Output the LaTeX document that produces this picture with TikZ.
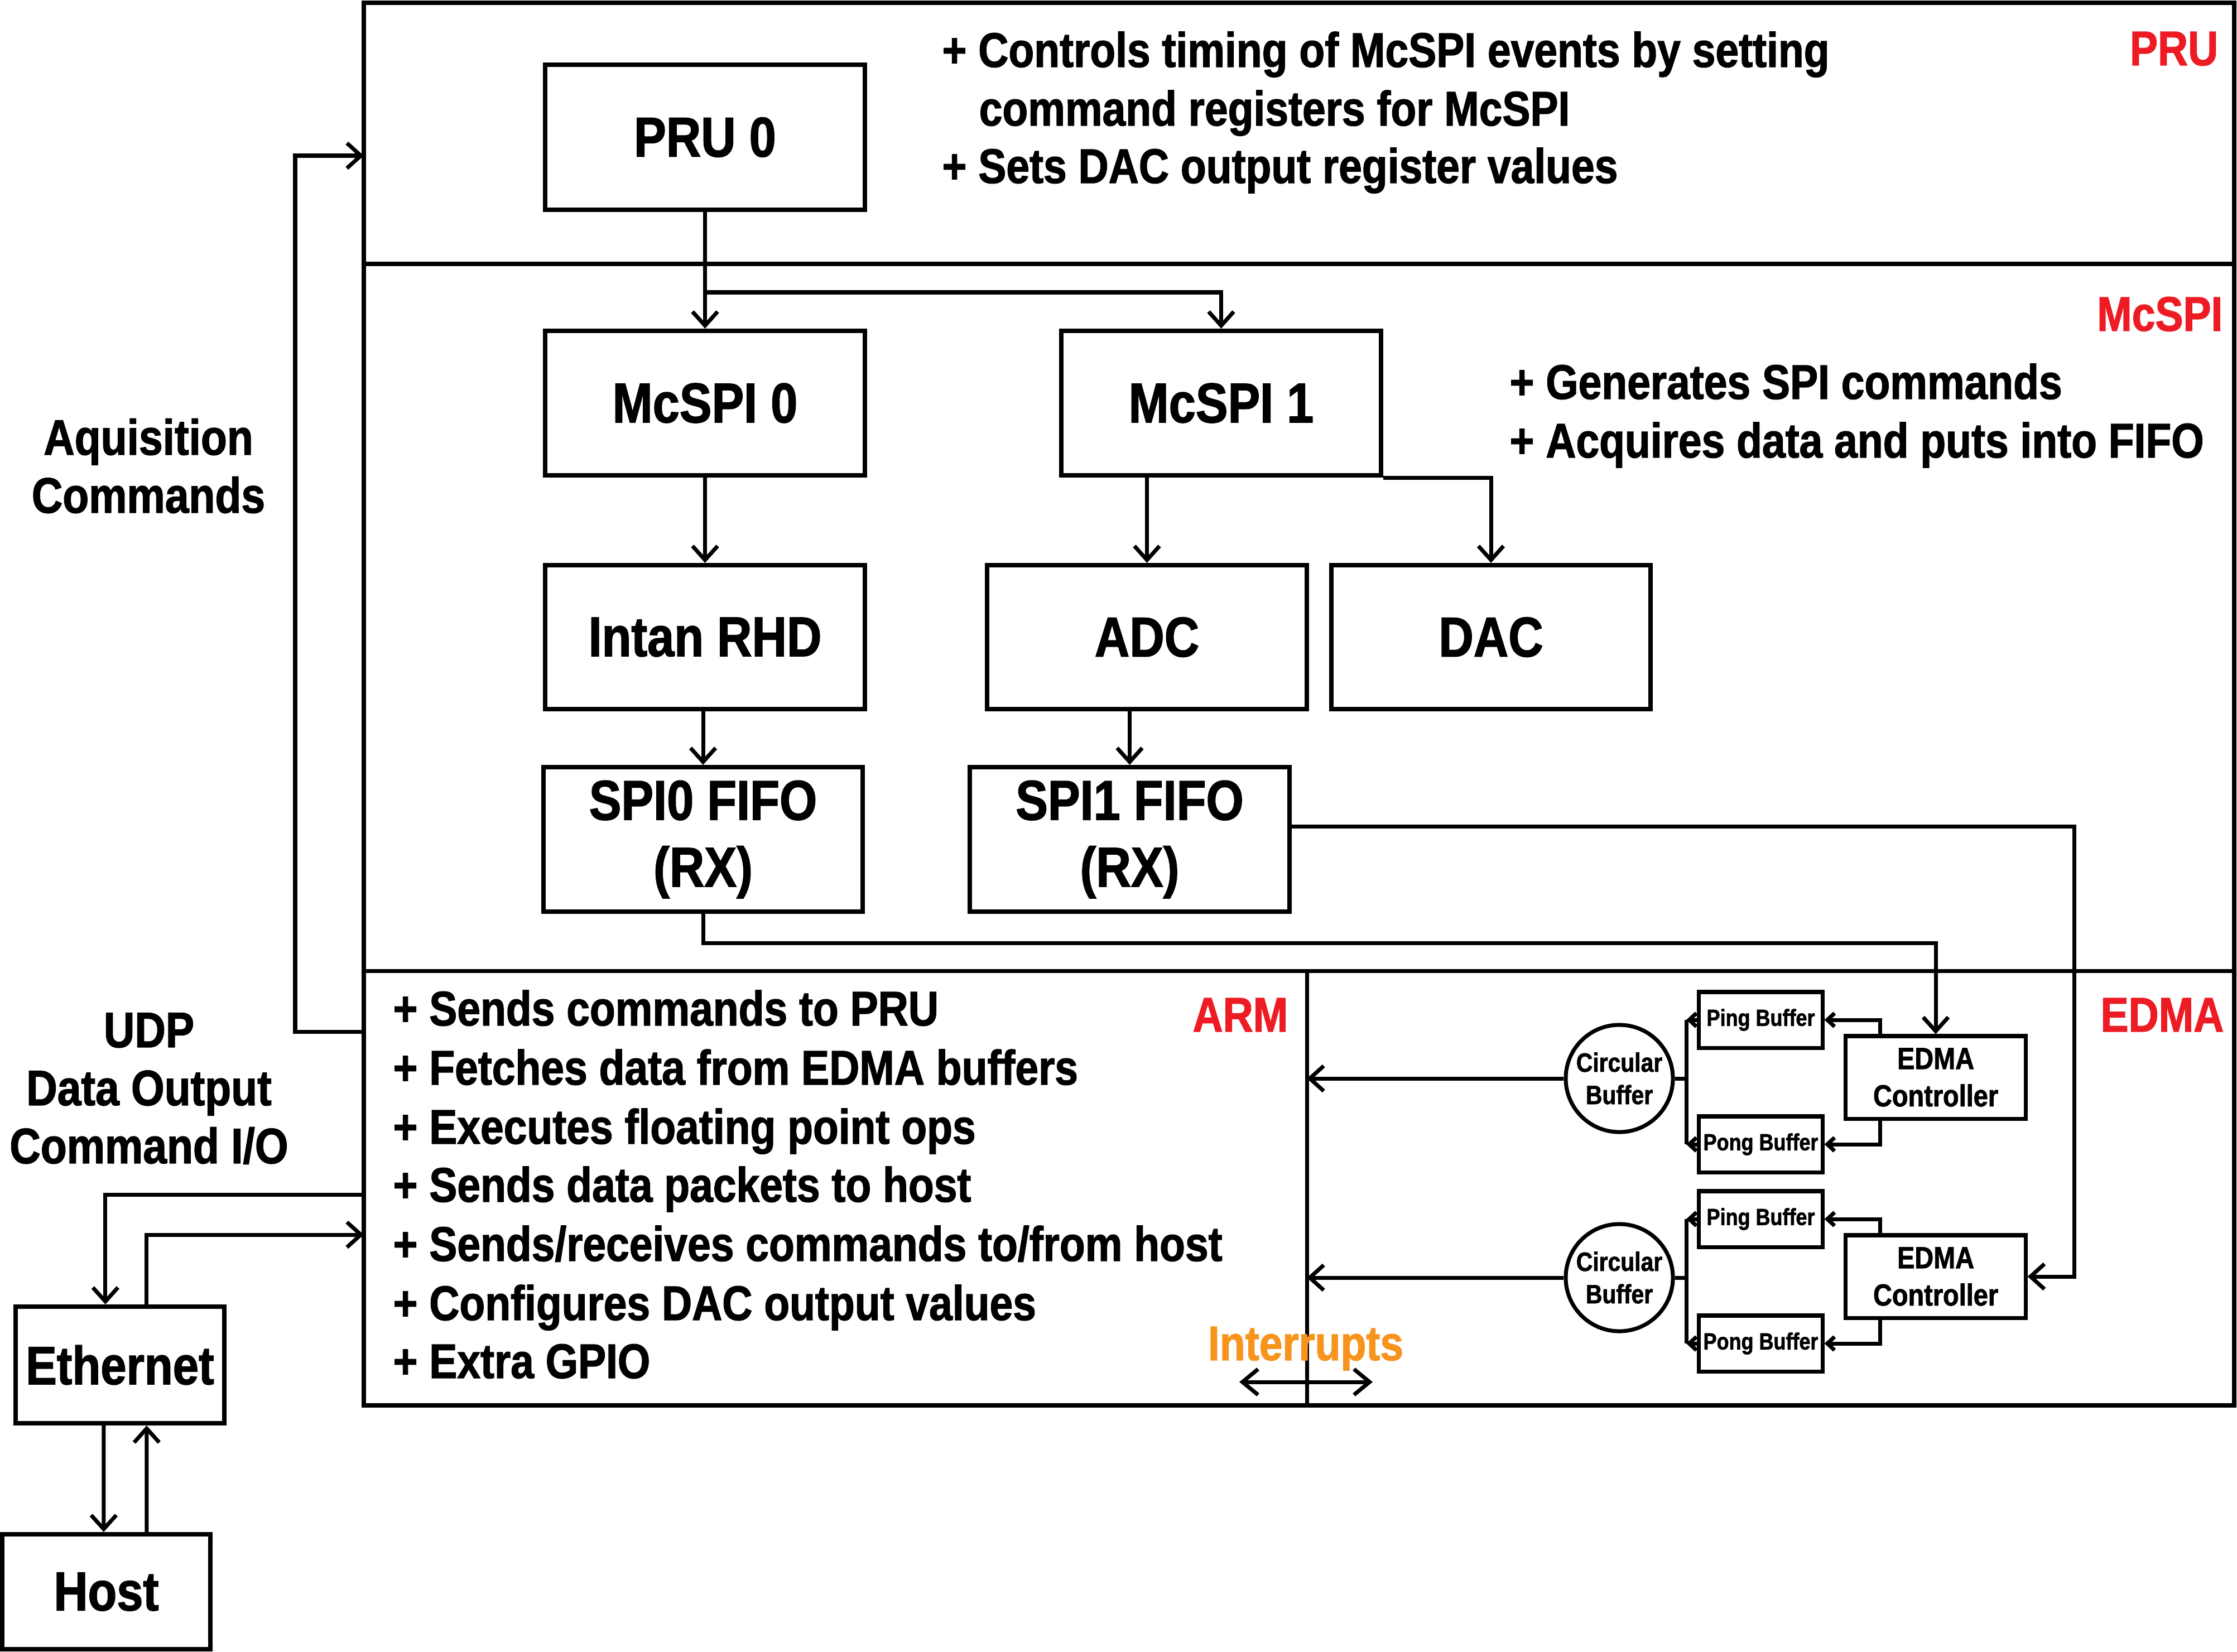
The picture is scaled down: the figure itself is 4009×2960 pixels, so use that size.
\documentclass[tikz,border=0pt]{standalone}
\usepackage{fontspec}
\newfontfamily\cond{Liberation Sans}[FakeStretch=0.86, FakeBold=1.5]
\usetikzlibrary{arrows.meta,calc}
\definecolor{lblred}{HTML}{ED1C24}
\definecolor{intorange}{HTML}{F7941E}
\tikzset{
  box/.style={draw, line width=2.3pt, rectangle, inner sep=0pt, align=center,
    font=\cond\bfseries\fontsize{28.6pt}{34.1pt}\selectfont},
  smallbox/.style={draw, line width=2pt, rectangle, inner sep=0pt, align=center,
    minimum width=2.21cm, minimum height=1.0cm,
    font=\cond\bfseries\fontsize{11.9pt}{14pt}\selectfont},
  ctrlbox/.style={draw, line width=2pt, rectangle, inner sep=0pt, align=center,
    minimum width=3.22cm, minimum height=1.48cm,
    font=\cond\bfseries\fontsize{15.5pt}{19pt}\selectfont},
  circbuf/.style={draw, line width=2pt, circle, inner sep=0pt, align=center,
    minimum size=1.92cm, font=\cond\bfseries\fontsize{13.5pt}{16.5pt}\selectfont},
  txt/.style={inner sep=0pt, anchor=base west,
    font=\cond\bfseries\fontsize{24.8pt}{30pt}\selectfont},
  sidelbl/.style={inner sep=0pt, anchor=base,
    font=\cond\bfseries\fontsize{25.4pt}{30pt}\selectfont},
  seclbl/.style={inner sep=0pt, anchor=base east, text=lblred,
    font=\cond\bfseries\fontsize{24.8pt}{30pt}\selectfont},
  frame/.style={line width=2.3pt},
  divider/.style={line width=2pt},
  conn/.style={line width=2pt},
  arr/.style={line width=2pt, -{Straight Barb[length=0.25cm, width=0.45cm, line width=2pt]}},
  sarr/.style={line width=2pt, -{Straight Barb[length=0.13cm, width=0.24cm, line width=2pt]}},
  dblarr/.style={line width=2pt, {Straight Barb[length=0.28cm, width=0.46cm, line width=2pt]}-{Straight Barb[length=0.28cm, width=0.46cm, line width=2pt]}},
}
\begin{document}
\begin{tikzpicture}[x=0.01cm, y=-0.01cm]
\useasboundingbox (0,0) rectangle (4009,2960);

% frame and section dividers
\draw[frame] (652,5) rectangle (4004,2519);
\draw[divider] (652,473) -- (4004,473);
\draw[divider] (652,1740) -- (4004,1740);
\coordinate (div) at (2342,1740);
\draw[divider] (div) -- (2342,2519);

% section labels
\node[seclbl] (lpru) at (3976,117) {PRU};
\node[seclbl] (lmcspi) at (3984,593) {McSPI};
\node[seclbl] (larm) at (2309,1849) {ARM};
\node[seclbl] (ledma) at (3986,1849) {EDMA};

% PRU section
\node[box, minimum width=5.73cm, minimum height=2.60cm] (pru0) at (1263.5,246) {PRU 0};
\node[txt] (p1) at (1688,120) {+ Controls timing of McSPI events by setting};
\node[txt] (p2) at (1754,225) {command registers for McSPI};
\node[txt] (p3) at (1688,328) {+ Sets DAC output register values};

% McSPI section
\node[box, minimum width=5.73cm, minimum height=2.59cm] (mcspi0) at (1263.5,722.5) {McSPI 0};
\node[box, minimum width=5.73cm, minimum height=2.59cm] (mcspi1) at (2188.5,722.5) {McSPI 1};
\node[box, minimum width=5.73cm, minimum height=2.58cm] (intan) at (1263.5,1142) {Intan RHD};
\node[box, minimum width=5.73cm, minimum height=2.58cm] (adc) at (2055.5,1142) {ADC};
\node[box, minimum width=5.72cm, minimum height=2.58cm] (dac) at (2672,1142) {DAC};
\node[box, minimum width=5.72cm, minimum height=2.59cm] (spi0) at (1260,1504.5) {SPI0 FIFO\\(RX)};
\node[box, minimum width=5.73cm, minimum height=2.59cm] (spi1) at (2024.5,1504.5) {SPI1 FIFO\\(RX)};
\node[txt] (m1) at (2705,715) {+ Generates SPI commands};
\node[txt] (m2) at (2705,820) {+ Acquires data and puts into FIFO};

\coordinate (br) at (1263.5,524);
\draw[arr] (pru0.south) -- (mcspi0.north);
\draw[arr] (br) -| (mcspi1.north);
\draw[arr] (mcspi0.south) -- (intan.north);
\draw[arr] (adc.north |- mcspi1.south) -- (adc.north);
\draw[arr] (mcspi1.south east) -| (dac.north);
\draw[arr] (spi0.north |- intan.south) -- (spi0.north);
\draw[arr] (spi1.north |- adc.south) -- (spi1.north);

% ARM section
\node[txt] (a1) at (704,1838) {+ Sends commands to PRU};
\node[txt] (a2) at (704,1944) {+ Fetches data from EDMA buffers};
\node[txt] (a3) at (704,2050) {+ Executes floating point ops};
\node[txt] (a4) at (704,2154) {+ Sends data packets to host};
\node[txt] (a5) at (704,2260) {+ Sends/receives commands to/from host};
\node[txt] (a6) at (704,2366) {+ Configures DAC output values};
\node[txt] (a7) at (704,2470) {+ Extra GPIO};

\node[txt, anchor=base, text=intorange] (intlbl) at (2340,2438) {Interrupts};
\coordinate (intL) at (2221,2477);
\coordinate (intR) at (2460,2477);
\draw[dblarr] (intL) -- (intR);

% EDMA section, group 1
\node[circbuf] (circ1) at (2902,1933) {Circular\\Buffer};
\node[smallbox] (ping1) at (3155.5,1828) {Ping Buffer};
\node[smallbox] (pong1) at (3155.5,2051) {Pong Buffer};
\node[ctrlbox] (ctrl1) at (3469,1931) {EDMA\\Controller};
\coordinate (bar1) at (3022,1933);
\draw[arr] (circ1.west) -- (circ1.west -| div);
\draw[conn] (circ1.east) -- (bar1);
\draw[conn] (bar1 |- ping1.west) -- (bar1 |- pong1.west);
\draw[sarr] (ping1.west) -- (bar1 |- ping1.west);
\draw[sarr] (pong1.west) -- (bar1 |- pong1.west);
\draw[sarr] ($(ctrl1.north west)+(65,0)$) |- (ping1.east);
\draw[sarr] ($(ctrl1.south west)+(65,0)$) |- (pong1.east);

% EDMA section, group 2
\node[circbuf] (circ2) at (2902,2290) {Circular\\Buffer};
\node[smallbox] (ping2) at (3155.5,2185) {Ping Buffer};
\node[smallbox] (pong2) at (3155.5,2408) {Pong Buffer};
\node[ctrlbox] (ctrl2) at (3469,2288) {EDMA\\Controller};
\coordinate (bar2) at (3022,2290);
\draw[arr] (circ2.west) -- (circ2.west -| div);
\draw[conn] (circ2.east) -- (bar2);
\draw[conn] (bar2 |- ping2.west) -- (bar2 |- pong2.west);
\draw[sarr] (ping2.west) -- (bar2 |- ping2.west);
\draw[sarr] (pong2.west) -- (bar2 |- pong2.west);
\draw[sarr] ($(ctrl2.north west)+(65,0)$) |- (ping2.east);
\draw[sarr] ($(ctrl2.south west)+(65,0)$) |- (pong2.east);

% FIFO to EDMA controllers
\draw[arr] (spi0.south) -- (spi0.south |- 0,1690) -| (ctrl1.north);
\draw[arr] (spi1.east |- 0,1481) -- (3717,1481) |- (ctrl2.east);

% left side
\node[sidelbl] (acq1) at (266,815) {Aquisition};
\node[sidelbl] (acq2) at (266,919) {Commands};
\node[sidelbl] (udp1) at (267,1877) {UDP};
\node[sidelbl] (udp2) at (267,1981) {Data Output};
\node[sidelbl] (udp3) at (267,2085) {Command I/O};

\node[box, font=\cond\bfseries\fontsize{27.5pt}{33pt}\selectfont,
  minimum width=3.74cm, minimum height=2.09cm] (eth) at (215,2446.5) {Ethernet};
\node[box, font=\cond\bfseries\fontsize{28pt}{33pt}\selectfont,
  minimum width=3.73cm, minimum height=2.06cm] (host) at (190.5,2853) {Host};

\coordinate (armP) at (652,1849);
\coordinate (pruIn) at (652,279);
\draw[arr] (armP) -- (529,1849) |- (pruIn);

\coordinate (armE1) at (652,2141);
\coordinate (armE2) at (652,2213);
\draw[arr] (armE1) -| ($(eth.north west)+(165,0)$);
\draw[arr] ($(eth.north west)+(239,0)$) |- (armE2);
\draw[arr] ($(eth.south west)+(162,0)$) -- ($(host.north west)+(186,0)$);
\draw[arr] ($(host.north west)+(263,0)$) -- ($(eth.south west)+(239,0)$);
\end{tikzpicture}
\end{document}
